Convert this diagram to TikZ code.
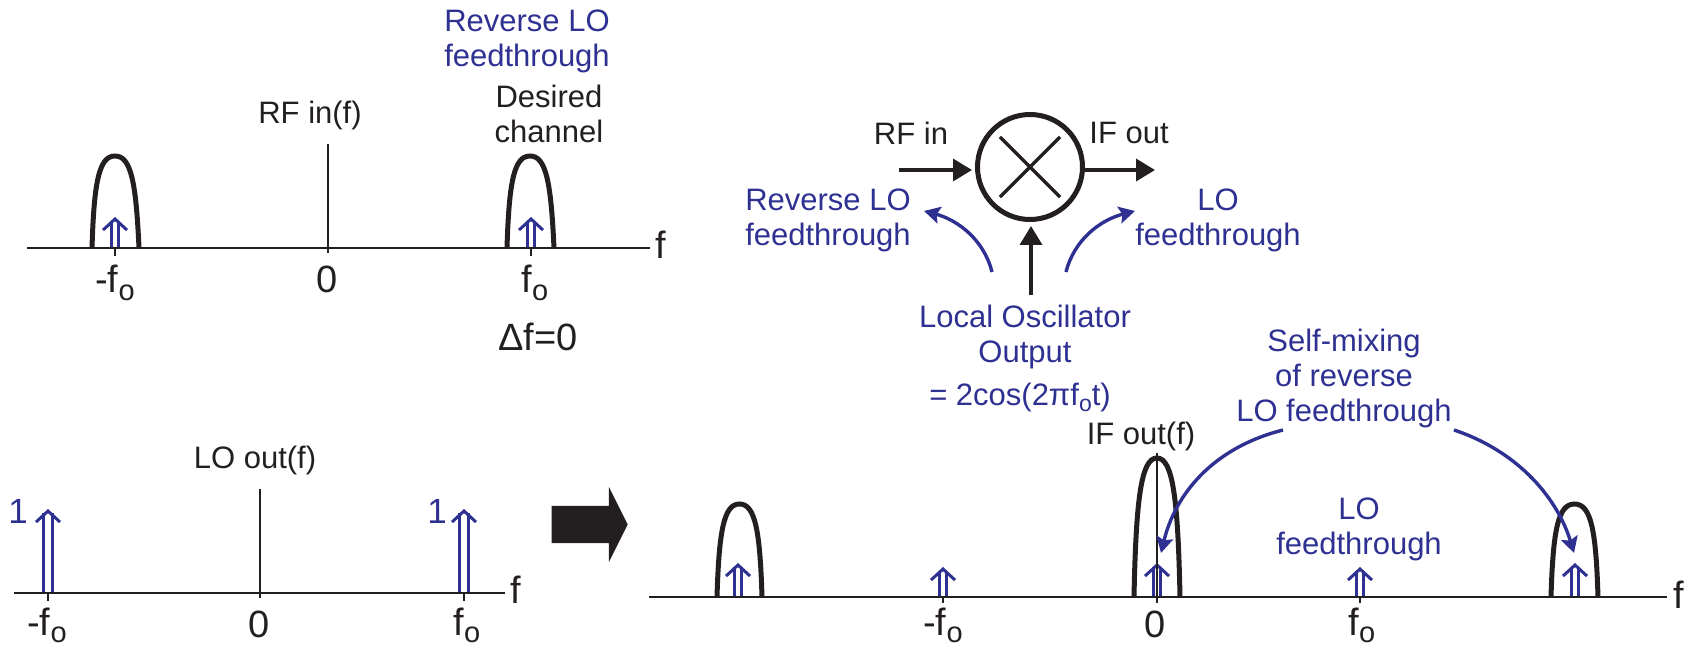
\documentclass[tikz,border=0pt]{standalone}
\usepackage{fontspec}
\setmainfont{Liberation Sans}
\usepackage{xcolor}
\usepackage{tikz}
\usetikzlibrary{arrows.meta,positioning,shapes.misc,shapes.arrows}
\definecolor{lnblue}{HTML}{2E3192}
\definecolor{lnblack}{HTML}{231F20}
\newcommand{\subo}{\raisebox{-7.5pt}{\fontsize{29}{29}\selectfont o}}
\newcommand{\subs}{\raisebox{-6pt}{\fontsize{23}{23}\selectfont o}}

\begin{document}
\begin{tikzpicture}[
  x=1pt, y=-1pt,
  txt/.style   = {inner sep=0pt, align=center, text=lnblack,
                  font=\fontsize{31}{35}\selectfont},
  btxt/.style  = {txt, text=lnblue},
  big/.style   = {txt, font=\fontsize{38}{40}\selectfont},
  axs/.style   = {draw=lnblack, line width=2.8pt},
  vln/.style   = {draw=lnblack, line width=2pt},
  tck/.style   = {draw=lnblack, line width=1.8pt},
  band/.style  = {draw=lnblack, line width=5pt},
  arr/.style   = {draw=lnblack, line width=3.6pt,
                  -{Triangle[length=19pt,width=22pt]}},
  barr/.style  = {draw=lnblue, line width=3.4pt,
                  -{Stealth[length=16pt,width=17pt,inset=3pt]}},
  dbl/.style   = {draw=lnblue, double=white, line width=3pt,
                  double distance=#1,
                  -{Straight Barb[length=11pt,width=24pt,line width=3pt]}},
  dbl/.default = 4.5pt,
  mixer/.style = {circle, draw=lnblack, line width=5pt, minimum size=105pt,
                  inner sep=0pt},
]

%% ── Top left: RF in(f) ──────────────────────────────────────────────────────
\coordinate (RFa) at (27,248);
\coordinate (RFb) at (650,248);
\coordinate (RFm) at (328,144);
\coordinate (RFl) at (115,217);
\coordinate (RFr) at (531,217);
\draw[band] (92,248) .. controls (94,182) and (99,156) .. (115,156)
            .. controls (131,156) and (136,182) .. (139,248);
\draw[band] (507,248) .. controls (509,182) and (514,156) .. (530,156)
            .. controls (546,156) and (551,182) .. (554,248);
\draw[dbl] (RFl |- RFa) -- (RFl);
\draw[dbl] (RFr |- RFa) -- (RFr);
\draw[axs] (RFa) -- (RFb);
\draw[vln] (RFm) -- (RFm |- 0,253);
\draw[tck] (RFl |- RFa) -- ++(0,8);
\draw[tck] (RFr |- RFa) -- ++(0,8);
\node[big] (RFf)  at (661,245) {f};
\node[big, anchor=base] (RFn) at (115,293) {-f\subo};
\node[big, anchor=base] (RFz) at (327,293) {0};
\node[big, anchor=base] (RFp) at (535,293) {f\subo};
\node[txt] (RFt)  at (310,115) {RF in(f)};
\node[txt] (RFd)  at (549,114) {Desired\\channel};
\node[btxt] (RFr1) at (527,41) {Reverse LO\\feedthrough};
\node[big] (RFdf) at (538,337) {Δf=0};

%% ── Bottom left: LO out(f) ──────────────────────────────────────────────────
\coordinate (LOa) at (14,593);
\coordinate (LOb) at (505,593);
\coordinate (LOm) at (260,489);
\coordinate (LOl) at (48,509);
\coordinate (LOr) at (464,509);
\draw[dbl=6.5pt] (LOl |- LOa) -- (LOl);
\draw[dbl=6.5pt] (LOr |- LOa) -- (LOr);
\draw[axs] (LOa) -- (LOb);
\draw[vln] (LOm) -- (LOm |- 0,598);
\draw[tck] (LOl |- LOa) -- ++(0,8);
\draw[tck] (LOr |- LOa) -- ++(0,8);
\node[big] (LOf)  at (516,590) {f};
\node[big, anchor=base] (LOn) at (47,635) {-f\subo};
\node[big, anchor=base] (LOz) at (259,637) {0};
\node[big, anchor=base] (LOp) at (467,635) {f\subo};
\node[txt] (LOt)  at (255,460) {LO out(f)};
\node[btxt, font=\fontsize{35}{35}\selectfont] (LO1) at (18,511) {1};
\node[btxt, font=\fontsize{35}{35}\selectfont] (LO2) at (437,511) {1};

%% ── Block arrow ─────────────────────────────────────────────────────────────
\node[single arrow, fill=lnblack, inner xsep=0pt, inner ysep=18.5pt,
      minimum height=76pt, single arrow head extend=19pt,
      single arrow tip angle=127, anchor=center] (BIG) at (585,524.5) {};

%% ── Mixer ───────────────────────────────────────────────────────────────────
\node[mixer] (MIX) at (1030,167) {};
\node[cross out, draw=lnblack, line width=3.2pt, inner sep=0pt,
      minimum width=57pt, minimum height=57pt] (MIXx) at (MIX.center) {};
\coordinate (RFs) at (899,170);
\coordinate (IFe) at (1155,170);
\coordinate (OSs) at (1031,295);
\draw[arr, shorten >=3pt] (RFs) -- (RFs -| MIX.west);
\draw[arr] (MIX.east |- IFe) -- (IFe);
\draw[arr, shorten >=4pt] (OSs) -- (OSs |- MIX.south);
\node[txt] (MXi) at (911,133) {RF in};
\node[txt] (MXo) at (1129,133) {IF out};
\node[btxt] (MXr) at (828,220) {Reverse LO\\feedthrough};
\node[btxt] (MXl) at (1218,220) {LO\\feedthrough};
\node[btxt] (MXc) at (1025,337) {Local Oscillator\\Output};
\node[btxt, anchor=base] (MXe) at (1020,405) {= 2cos(2πf\subs t)};
\coordinate (CLa) at (992,272);
\coordinate (CLb) at (924,211);
\coordinate (CRa) at (1066,272);
\coordinate (CRb) at (1135,211);
\draw[barr] (CLa) .. controls (984,240) and (958,220) .. (CLb);
\draw[barr] (CRa) .. controls (1074,240) and (1100,220) .. (CRb);

%% ── Bottom right: IF out(f) ─────────────────────────────────────────────────
\coordinate (IFa) at (649,597);
\coordinate (IFb) at (1667,597);
\coordinate (IFm) at (1157,453);
\coordinate (IFq) at (738,563);
\coordinate (IFn) at (943,567);
\coordinate (IFz) at (1157,563);
\coordinate (IFp) at (1360,567);
\coordinate (IFs) at (1575,563);
\draw[band] (717,597) .. controls (719,530) and (724,504) .. (739.5,504)
            .. controls (755,504) and (760,530) .. (762,597);
\draw[band] (1134,597) .. controls (1136,500) and (1141,458) .. (1157,458)
            .. controls (1173,458) and (1178,500) .. (1180,597);
\draw[band] (1551,597) .. controls (1553,530) and (1558,504) .. (1574.5,504)
            .. controls (1591,504) and (1596,530) .. (1598,597);
\draw[dbl] (IFq |- IFa) -- (IFq);
\draw[dbl] (IFn |- IFa) -- (IFn);
\draw[dbl] (IFz |- IFa) -- (IFz);
\draw[dbl] (IFp |- IFa) -- (IFp);
\draw[dbl] (IFs |- IFa) -- (IFs);
\draw[axs] (IFa) -- (IFb);
\draw[vln] (IFm) -- (IFm |- 0,603);
\draw[tck] (IFn |- IFa) -- ++(0,6);
\draw[tck] (IFp |- IFa) -- ++(0,6);
\node[big] (IFf)  at (1679,595) {f};
\node[big, anchor=base] (IFnl) at (943,635) {-f\subo};
\node[big, anchor=base] (IFzl) at (1155,637) {0};
\node[big, anchor=base] (IFpl) at (1362,635) {f\subo};
\node[txt] (IFt)  at (1141,436) {IF out(f)};
\node[btxt] (IFlo) at (1359,529) {LO\\feedthrough};
\node[btxt] (IFsm) at (1344,378) {Self-mixing\\of reverse\\LO feedthrough};
\coordinate (SMa) at (1283,430);
\coordinate (SMb) at (1161,553);
\coordinate (SMc) at (1454,430);
\coordinate (SMd) at (1574,553);
\draw[barr] (SMa) .. controls (1212,448) and (1175,495) .. (SMb);
\draw[barr] (SMc) .. controls (1520,452) and (1558,500) .. (SMd);

\useasboundingbox (0,0) rectangle (1690,647);
\end{tikzpicture}
\end{document}
